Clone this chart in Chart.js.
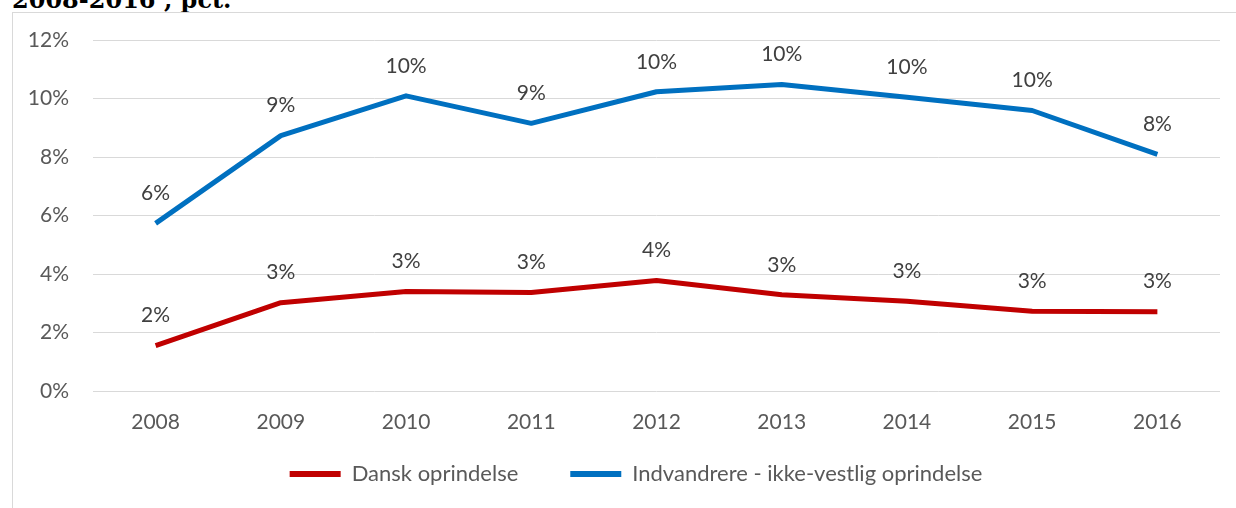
<!DOCTYPE html>
<html>
<head>
<meta charset="utf-8">
<script src="https://cdn.jsdelivr.net/npm/chart.js@4/dist/chart.umd.min.js"></script>
<style>
  html, body { margin: 0; padding: 0; background: #fff; overflow: hidden; }
  #wrap { position: relative; width: 1236px; height: 508px; }
  #title { position: absolute; left: 12px; top: -12px; font: bold 24px "DejaVu Serif", serif; line-height: 1; color: #000; white-space: nowrap; }
  #frame { position: absolute; left: 12px; top: 12px; width: 1224px; height: 496px; border-left: 1px solid #d9d9d9; border-top: 1px solid #d9d9d9; }
  #c { position: absolute; left: 0; top: 0; }
</style>
</head>
<body>
<div id="wrap">
  <div id="title">2008-2016 , pct.</div>
  <div id="frame"></div>
  <canvas id="c" width="1236" height="508"></canvas>
</div>
<script>
const years = ['2008', '2009', '2010', '2011', '2012', '2013', '2014', '2015', '2016'];
const dansk = [1.55, 3.02, 3.40, 3.37, 3.78, 3.29, 3.07, 2.73, 2.71];
const indvandrere = [5.73, 8.73, 10.09, 9.15, 10.23, 10.48, 10.04, 9.59, 8.09];
const yTicks = [0, 2, 4, 6, 8, 10, 12];

const FONT = 'Lato';

// data labels above each point
const pointLabels = {
    id: 'pointLabels',
    afterDatasetsDraw(chart) {
        const ctx = chart.ctx;
        ctx.save();
        ctx.font = '21px ' + FONT;
        ctx.fillStyle = '#404040';
        ctx.textAlign = 'center';
        ctx.textBaseline = 'middle';
        chart.data.datasets.forEach((ds, di) => {
            const meta = chart.getDatasetMeta(di);
            meta.data.forEach((pt, i) => {
                ctx.fillText(Math.round(ds.data[i]) + '%', pt.x, pt.y - 30);
            });
        });
        ctx.restore();
    }
};

// keep the legend small in the layout, then move it where it sits in the original
const legendPlace = {
    id: 'legendPlace',
    afterInit(chart) {
        const lg = chart.legend;
        if (!lg) return;
        const fit = lg.fit;
        lg.fit = function () {
            fit.call(this);
            this.height = 71;
        };
    },
    afterLayout(chart) {
        const lg = chart.legend;
        if (!lg) return;
        lg.top = 411;
        lg.bottom = chart.height;
        lg.height = lg.bottom - lg.top;
        lg.left += 26;
        lg.right += 26;
    }
};

new Chart(document.getElementById('c'), {
    type: 'line',
    data: {
        labels: years,
        datasets: [
            {
                label: 'Dansk oprindelse',
                data: dansk,
                borderColor: '#C00000',
                backgroundColor: '#C00000',
                borderWidth: 5,
                pointRadius: 0,
                tension: 0,
                borderJoinStyle: 'round'
            },
            {
                label: 'Indvandrere - ikke-vestlig oprindelse',
                data: indvandrere,
                borderColor: '#0070C0',
                backgroundColor: '#0070C0',
                borderWidth: 5,
                pointRadius: 0,
                tension: 0,
                borderJoinStyle: 'round'
            }
        ]
    },
    options: {
        responsive: false,
        animation: false,
        events: [],
        layout: { padding: { left: 0, right: 16, top: 40, bottom: 0 } },
        plugins: {
            legend: {
                position: 'bottom',
                labels: {
                    boxWidth: 51,
                    boxHeight: 6,
                    padding: 52,
                    color: '#595959',
                    font: { family: FONT, size: 22 },
                    generateLabels(chart) {
                        return Chart.defaults.plugins.legend.labels.generateLabels(chart)
                            .map(l => Object.assign(l, { lineWidth: 0 }));
                    }
                }
            },
            tooltip: { enabled: false }
        },
        scales: {
            x: {
                offset: true,
                grid: { display: false, drawTicks: false },
                border: { display: false },
                ticks: {
                    padding: 19,
                    color: '#595959',
                    font: { family: FONT, size: 21 },
                    maxRotation: 0
                },
                afterFit(axis) { axis.height = 46; }
            },
            y: {
                min: 0,
                max: 12,
                afterBuildTicks(axis) { axis.ticks = yTicks.map(v => ({ value: v })); },
                grid: { color: '#d9d9d9', lineWidth: 1, drawTicks: false },
                border: { display: false },
                ticks: {
                    padding: 24,
                    color: '#595959',
                    font: { family: FONT, size: 21 },
                    callback: v => v + '%'
                },
                afterFit(axis) { axis.width = 93; }
            }
        }
    },
    plugins: [pointLabels, legendPlace]
});
</script>
</body>
</html>
